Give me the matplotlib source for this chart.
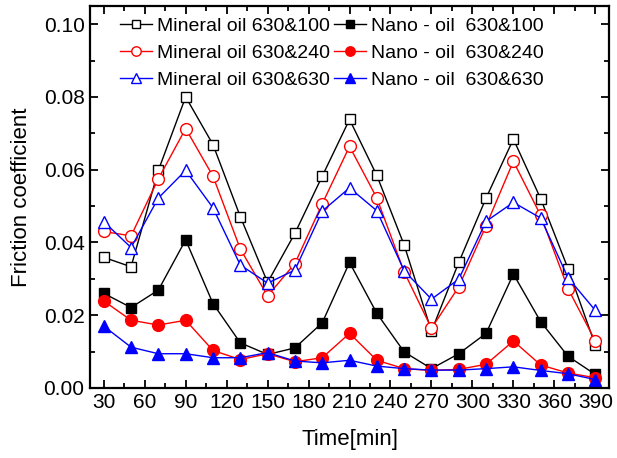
import numpy as np
import matplotlib
matplotlib.use("Agg")
import matplotlib.pyplot as plt
from matplotlib.ticker import MultipleLocator, FormatStrFormatter

plt.rcParams['font.family'] = ['Liberation Sans', 'DejaVu Sans']

time_min = [30, 50, 70, 90, 110, 130, 150, 170, 190, 210,
            230, 250, 270, 290, 310, 330, 350, 370, 390]

mineral_100 = [0.0359, 0.0333, 0.0598, 0.0800, 0.0669, 0.0471, 0.0290, 0.0425, 0.0582, 0.0738,
               0.0584, 0.0393, 0.0156, 0.0345, 0.0522, 0.0684, 0.0520, 0.0328, 0.0117]
mineral_240 = [0.0430, 0.0418, 0.0575, 0.0713, 0.0582, 0.0382, 0.0253, 0.0342, 0.0506, 0.0664,
               0.0522, 0.0319, 0.0164, 0.0278, 0.0446, 0.0623, 0.0474, 0.0273, 0.0129]
mineral_630 = [0.0457, 0.0386, 0.0522, 0.0598, 0.0495, 0.0338, 0.0288, 0.0324, 0.0486, 0.0550,
               0.0487, 0.0322, 0.0244, 0.0299, 0.0458, 0.0510, 0.0467, 0.0303, 0.0213]
nano_100 = [0.0260, 0.0221, 0.0269, 0.0407, 0.0232, 0.0124, 0.0092, 0.0110, 0.0179, 0.0345,
            0.0205, 0.0099, 0.0053, 0.0094, 0.0150, 0.0313, 0.0182, 0.0087, 0.0037]
nano_240 = [0.0239, 0.0186, 0.0173, 0.0186, 0.0103, 0.0078, 0.0094, 0.0072, 0.0083, 0.0150,
            0.0076, 0.0053, 0.0048, 0.0051, 0.0065, 0.0129, 0.0063, 0.0041, 0.0028]
nano_630 = [0.0170, 0.0112, 0.0094, 0.0094, 0.0083, 0.0083, 0.0097, 0.0074, 0.0069, 0.0076,
            0.0060, 0.0053, 0.0049, 0.0049, 0.0053, 0.0058, 0.0048, 0.0039, 0.0023]

labels = ['Mineral oil 630&100', 'Mineral oil 630&240', 'Mineral oil 630&630',
          'Nano - oil  630&100', 'Nano - oil  630&240', 'Nano - oil  630&630']

fig = plt.figure(figsize=(6.17, 4.58), dpi=100)
ax = fig.add_axes([0.146, 0.153, 0.841, 0.834])

# open markers for mineral oil, filled for nano-oil
ax.plot(time_min, mineral_100, '-s', color='black', mfc='white', mec='black', ms=7.5, lw=1, label=labels[0])
ax.plot(time_min, mineral_240, '-o', color='red', mfc='white', mec='red', ms=8.5, lw=1, label=labels[1])
ax.plot(time_min, mineral_630, '-^', color='blue', mfc='white', mec='blue', ms=8.5, lw=1, label=labels[2])
ax.plot(time_min, nano_100, '-s', color='black', ms=7.5, lw=1, label=labels[3])
ax.plot(time_min, nano_240, '-o', color='red', ms=8.5, lw=1, label=labels[4])
ax.plot(time_min, nano_630, '-^', color='blue', ms=8.5, lw=1, label=labels[5])

ax.set_xlim(20, 400)
ax.set_ylim(0, 0.105)
ax.xaxis.set_major_locator(MultipleLocator(30))
ax.xaxis.set_minor_locator(MultipleLocator(15))
ax.yaxis.set_major_locator(MultipleLocator(0.02))
ax.yaxis.set_minor_locator(MultipleLocator(0.01))
ax.yaxis.set_major_formatter(FormatStrFormatter('%.2f'))

ax.tick_params(which='both', direction='in', top=True, right=True, labelsize=15, width=1.3)
ax.tick_params(which='major', length=6, pad=4)
ax.tick_params(which='minor', length=3.5)
for s in ax.spines.values():
    s.set_linewidth(1.6)

ax.set_xlabel('Time[min]', fontsize=16, labelpad=12)
ax.set_ylabel('Friction coefficient', fontsize=16, labelpad=8)

ax.legend(ncol=2, frameon=False, fontsize=14, loc='upper left',
          bbox_to_anchor=(120 / 617, 1 - 17 / 458), bbox_transform=fig.transFigure,
          handlelength=1.65, handletextpad=0.25, columnspacing=0.2,
          labelspacing=0.5, borderpad=0, borderaxespad=0, markerscale=0.8)

fig.savefig('out.png', dpi=100)
